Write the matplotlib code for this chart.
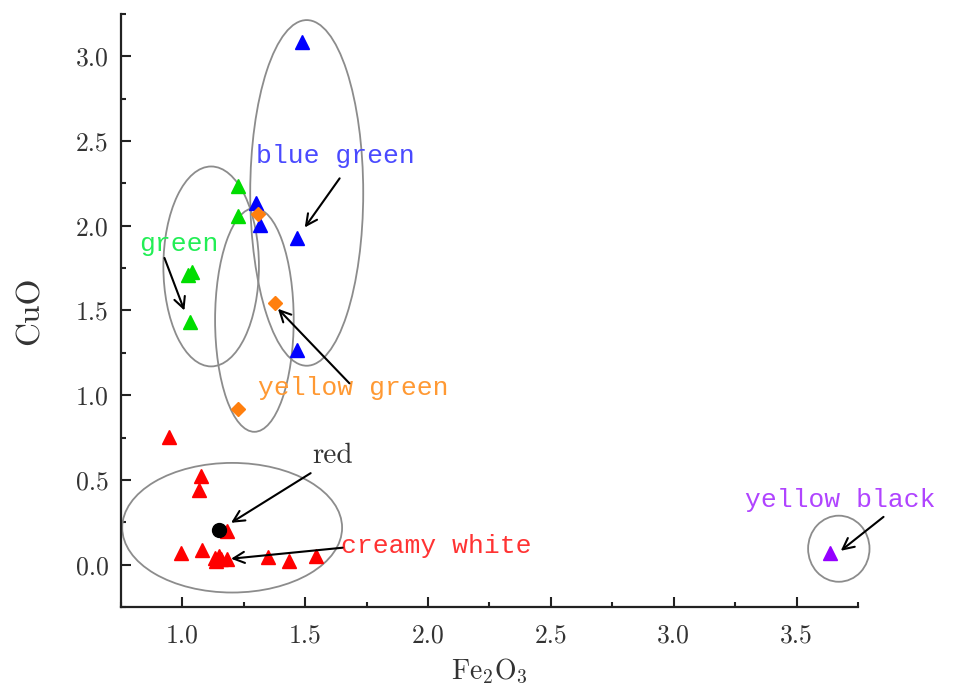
import matplotlib
matplotlib.use('Agg')
import matplotlib.pyplot as plt
from matplotlib.patches import Ellipse
from matplotlib.ticker import MultipleLocator, FormatStrFormatter

plt.rcParams['font.family'] = ['cmr10', 'DejaVu Serif']
plt.rcParams['mathtext.fontset'] = 'cm'
plt.rcParams['axes.formatter.use_mathtext'] = True

# Fe2O3 (x) vs CuO (y) for each glaze colour group
blue_x = [1.486, 1.300, 1.317, 1.468, 1.466]
blue_y = [3.082, 2.137, 2.006, 1.928, 1.265]

green_x = [1.228, 1.228, 1.023, 1.039, 1.030]
green_y = [2.235, 2.060, 1.710, 1.725, 1.430]

yg_x = [1.306, 1.377, 1.227]
yg_y = [2.069, 1.543, 0.920]

red_x = [0.947, 1.077, 1.069, 0.993, 1.080, 1.131, 1.147, 1.138, 1.158, 1.182,
         1.347, 1.434, 1.543, 1.182]
red_y = [0.753, 0.524, 0.440, 0.069, 0.084, 0.039, 0.053, 0.020, 0.033, 0.033,
         0.045, 0.020, 0.053, 0.196]

black_x = [1.147]
black_y = [0.206]

purple_x = [3.636]
purple_y = [0.070]

# grouping ellipses: centre x, centre y, width, height
ell_cx = [1.506, 1.117, 1.293, 1.2025, 3.672]
ell_cy = [2.194, 1.760, 1.444, 0.218, 0.094]
ell_w = [0.460, 0.389, 0.320, 0.895, 0.250]
ell_h = [2.040, 1.180, 1.320, 0.765, 0.390]

# labels: text, x, y, colour, arrow start, arrow end
labels = ['blue green', 'green', 'yellow green', 'red', 'creamy white', 'yellow black']
lab_x = [1.300, 0.822, 1.306, 1.530, 1.644, 3.290]
lab_y = [2.410, 1.894, 1.040, 0.640, 0.112, 0.380]
lab_col = ['#4a4aff', '#22ee55', '#ff9933', '#333333', '#ff3333', '#b044ff']
arr_from = [(1.640, 2.280), (0.927, 1.810), (1.680, 1.070), (1.522, 0.540),
            (1.652, 0.100), (3.854, 0.282)]
arr_to = [(1.498, 1.990), (1.008, 1.500), (1.389, 1.510), (1.198, 0.247),
          (1.198, 0.035), (3.680, 0.082)]

fig = plt.figure(figsize=(9.55, 6.99), dpi=100)
ax = fig.add_axes([0.1267, 0.1316, 0.7717, 0.8484])

for cx, cy, w, h in zip(ell_cx, ell_cy, ell_w, ell_h):
    ax.add_patch(Ellipse((cx, cy), w, h, facecolor='none', edgecolor='#8c8c8c',
                         lw=1.3, zorder=2, clip_on=False))

ax.plot(red_x, red_y, '^', color='#ff0000', ms=9.5, zorder=3)
ax.plot(blue_x, blue_y, '^', color='#0000ff', ms=9.5, zorder=3)
ax.plot(green_x, green_y, '^', color='#00dd00', ms=9.5, zorder=3)
ax.plot(yg_x, yg_y, 'D', color='#ff7f0e', ms=7, zorder=4)
ax.plot(black_x, black_y, 'o', color='black', ms=10, zorder=4)
ax.plot(purple_x, purple_y, '^', color='#9400ff', ms=9.5, zorder=3)

for i in range(len(labels)):
    fam = ['cmr10'] if labels[i] == 'red' else ['Liberation Mono']
    size = 21 if labels[i] == 'red' else 19
    ax.text(lab_x[i], lab_y[i], labels[i], color=lab_col[i], family=fam, fontsize=size,
            ha='left', va='center', zorder=5, clip_on=False)
    ax.annotate('', xy=arr_to[i], xytext=arr_from[i], annotation_clip=False,
                arrowprops=dict(arrowstyle='->', color='black', lw=1.5,
                                mutation_scale=20, shrinkA=0, shrinkB=0), zorder=5)

ax.set_xlim(0.75, 3.75)
ax.set_ylim(-0.25, 3.25)
ax.xaxis.set_major_locator(MultipleLocator(0.5))
ax.xaxis.set_minor_locator(MultipleLocator(0.25))
ax.yaxis.set_major_locator(MultipleLocator(0.5))
ax.yaxis.set_minor_locator(MultipleLocator(0.25))
ax.xaxis.set_major_formatter(FormatStrFormatter('%.1f'))
ax.yaxis.set_major_formatter(FormatStrFormatter('%.1f'))

for s in ['top', 'right']:
    ax.spines[s].set_visible(False)
for s in ['left', 'bottom']:
    ax.spines[s].set_linewidth(1.6)
    ax.spines[s].set_color('#222222')

ax.tick_params(which='major', direction='in', length=7, width=1.5, colors='#222222',
               labelsize=18.5, labelcolor='#333333')
ax.tick_params(which='minor', direction='in', length=3.5, width=1.5, colors='#222222')
ax.tick_params(axis='x', which='major', pad=12)
ax.tick_params(axis='y', which='major', pad=9)

ax.set_xlabel('Fe$_2$O$_3$', fontsize=20, color='#333333', labelpad=7)
ax.set_ylabel('CuO', fontsize=24, color='#333333', labelpad=22)

fig.savefig('out.png', dpi=100)
